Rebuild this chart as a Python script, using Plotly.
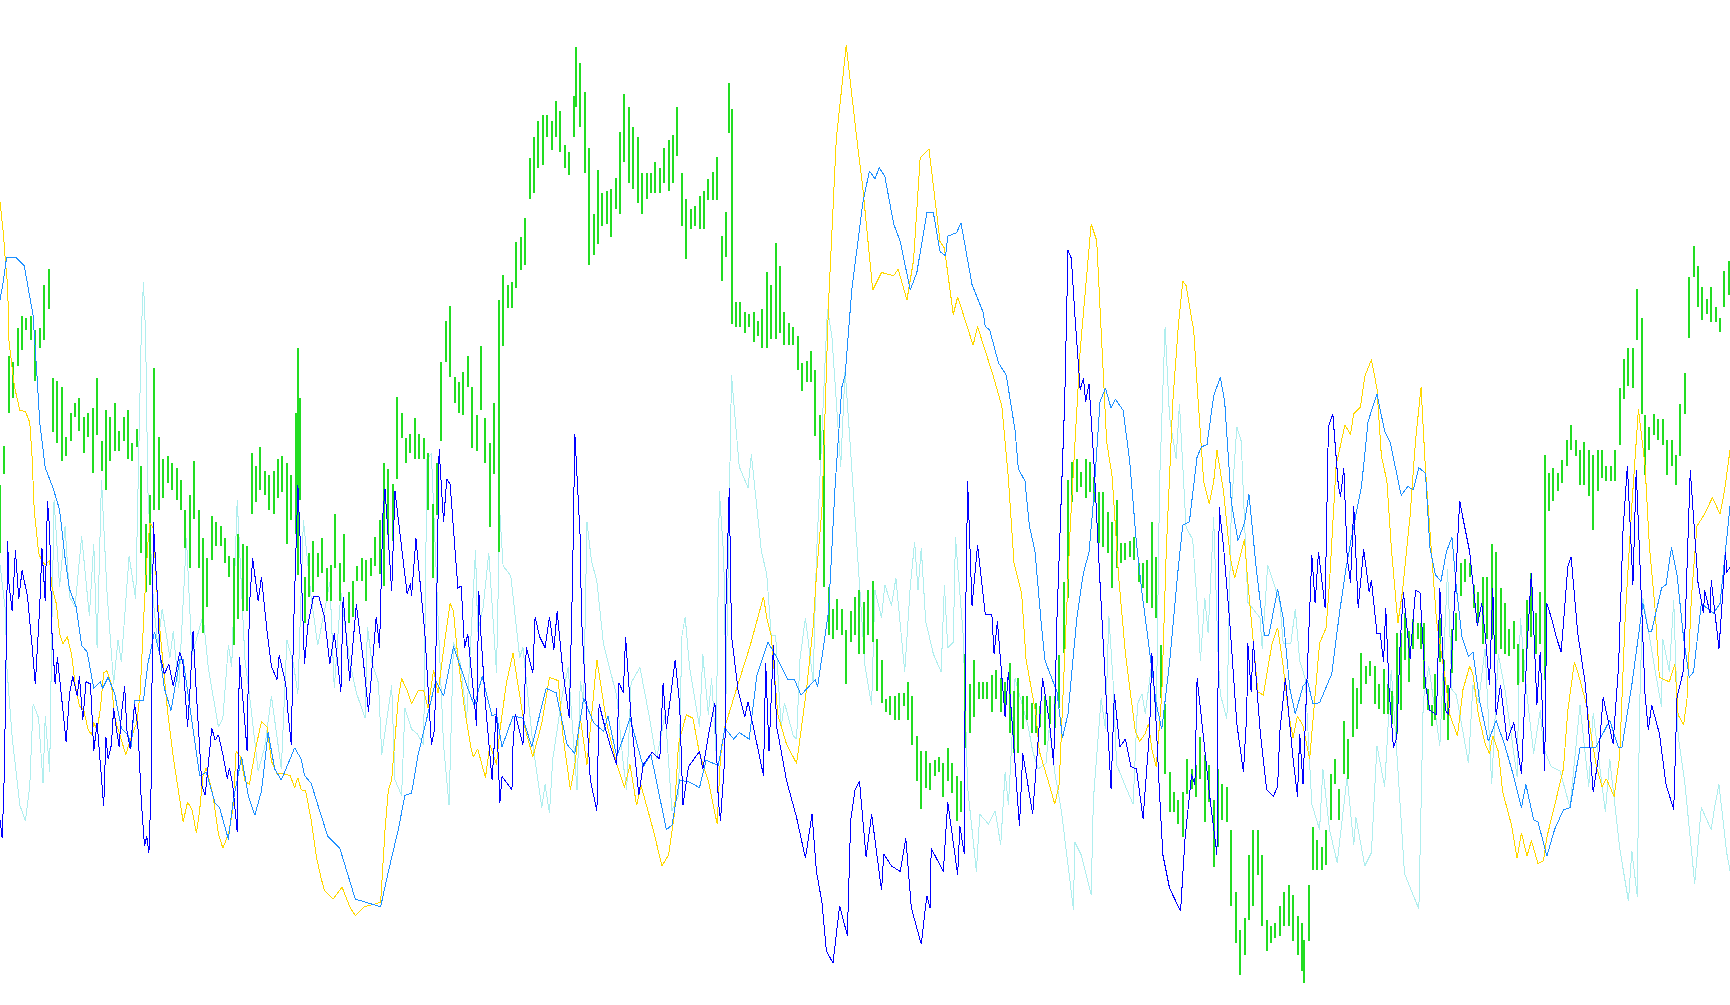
import plotly.graph_objects as go

# (position, value) readings for each series
gold = [(0,183),(3,211),(5,238),(7,260),(8,308),(11,334),(13,350),(18,372),(23,373),(27,383),(29,413),(31,462),(35,501),(38,509),(41,512),(45,508),(47,532),(51,547),(54,574),(57,584),(61,577),(65,594),(68,620),(72,640),(76,644),(80,662),(83,666),(85,655),(88,662),(91,642),(94,610),(97,608),(101,620),(104,651),(109,668),(114,684),(119,668),(124,655),(127,629),(129,585),(131,545),(134,493),(136,474),(139,479),(142,532),(145,572),(149,611),(152,646),(157,686),(162,721),(166,745),(170,727),(174,734),(178,755),(181,734),(184,703),(187,696),(193,721),(198,756),(202,769),(207,756),(211,734),(214,681),(218,686),(222,708),(226,711),(232,677),(237,654),(242,659),(246,690),(251,701),(255,701),(263,703),(267,714),(270,705),(273,716),(277,717),(282,743),(287,778),(291,796),(294,807),(302,815),(310,804),(317,822),(322,830),(330,822),(345,818),(349,752),(352,716),(355,707),(358,670),(361,633),(364,615),(369,626),(373,638),(379,626),(384,626),(388,642),(393,607),(397,628),(403,582),(408,547),(411,554),(415,596),(421,642),(427,679),(429,686),(433,679),(440,705),(444,675),(450,693),(453,663),(459,619),(465,592),(470,624),(476,661),(483,686),(491,656),(498,614),(506,617),(510,665),(517,716),(521,693),(526,651),(532,693),(541,598),(550,656),(559,693),(566,714),(571,693),(577,730),(581,712),(592,752),(600,785),(606,775),(611,740),(615,674),(622,648),(628,651),(634,683),(642,708),(650,747),(653,686),(657,659),(668,623),(680,585),(692,541),(695,560),(699,576),(705,648),(713,675),(722,692),(725,670),(731,625),(737,568),(740,521),(745,461),(748,357),(751,274),(758,126),(767,41),(776,121),(782,170),(791,263),(799,247),(810,250),(814,244),(822,272),(828,236),(834,143),(842,135),(852,219),(856,225),(864,285),(868,269),(882,313),(886,296),(900,340),(908,368),(914,434),(919,510),(926,538),(930,598),(939,648),(942,681),(951,711),(956,729),(960,711),(964,615),(970,478),(979,318),(989,203),(994,218),(998,305),(1003,400),(1008,432),(1014,524),(1020,592),(1029,663),(1033,672),(1038,665),(1041,656),(1044,679),(1048,695),(1053,629),(1057,501),(1063,364),(1068,295),(1072,255),(1075,259),(1082,300),(1086,364),(1091,437),(1096,457),(1100,437),(1103,408),(1109,446),(1115,505),(1119,524),(1128,489),(1131,528),(1136,583),(1140,627),(1145,630),(1153,583),(1158,569),(1163,604),(1168,647),(1172,669),(1176,649),(1181,658),(1187,688),(1192,629),(1196,583),(1202,569),(1205,528),(1211,422),(1219,385),(1224,394),(1227,375),(1233,369),(1237,341),(1243,326),(1248,352),(1252,413),(1257,436),(1261,496),(1267,565),(1271,537),(1278,468),(1283,399),(1288,351),(1292,426),(1298,514),(1302,563),(1310,616),(1314,648),(1321,667),(1326,625),(1332,604),(1335,611),(1340,648),(1346,674),(1350,683),(1353,667),(1358,681),(1362,718),(1370,748),(1375,778),(1379,755),(1384,776),(1388,762),(1394,783),(1399,780),(1402,759),(1411,722),(1417,697),(1421,644),(1427,600),(1430,609),(1438,639),(1443,672),(1447,695),(1452,713),(1456,706),(1463,722),(1468,685),(1473,560),(1479,459),(1485,371),(1491,422),(1495,496),(1500,551),(1504,614),(1513,618),(1518,602),(1521,648),(1526,657),(1529,634),(1533,542),(1538,477),(1545,466),(1552,451),(1559,466),(1563,445),(1568,408)]

dodger = [(0,272),(3,255),(6,233),(14,233),(22,241),(26,264),(30,286),(34,348),(36,383),(41,424),(48,442),(54,462),(59,506),(63,534),(69,550),(74,585),(79,591),(85,624),(91,618),(93,624),(98,614),(104,629),(110,660),(116,666),(119,677),(122,635),(130,635),(134,602),(140,573),(145,594),(149,624),(155,644),(163,598),(166,598),(175,660),(181,703),(187,700),(195,728),(199,732),(207,761),(211,728),(219,686),(225,721),(231,739),(237,717),(243,664),(249,697),(255,707),(267,678),(273,688),(276,703),(282,710),(291,739),(297,758),(308,769),(317,798),(322,815),(332,818),(345,822),(352,790),(361,752),(367,721),(373,719),(379,684),(387,651),(395,617),(402,631),(411,586),(423,621),(430,640),(437,613),(446,649),(450,647),(455,677),(465,649),(474,651),(482,677),(495,624),(504,628),(514,675),(521,683),(529,633),(538,655),(547,663),(551,649),(559,686),(571,651),(583,695),(590,684),(604,752),(609,748),(616,707),(625,709),(634,714),(640,689),(651,694),(657,660),(665,670),(670,664),(679,670),(686,612),(696,582),(704,596),(714,616),(720,616),(726,630),(739,616),(741,623),(751,554),(757,439),(763,351),(766,340),(772,263),(782,184),(788,155),(793,162),(797,152),(802,160),(810,203),(816,219),(825,263),(831,247),(840,193),(846,193),(852,228),(857,232),(859,214),(867,211),(871,202),(881,258),(891,283),(893,296),(897,299),(905,329),(912,340),(920,390),(923,425),(929,436),(933,477),(938,499),(944,568),(947,598),(951,609),(958,627),(963,669),(968,647),(976,560),(982,519),(987,501),(991,455),(997,364),(1002,352),(1007,370),(1011,362),(1018,372),(1024,419),(1030,492),(1035,537),(1041,583),(1048,638),(1053,661),(1060,601),(1068,514),(1072,476),(1078,473),(1085,414),(1089,405),(1094,403),(1100,359),(1106,342),(1110,364),(1116,455),(1122,490),(1128,474),(1132,448),(1139,519),(1146,576),(1150,576),(1158,534),(1163,560),(1169,624),(1174,647),(1181,622),(1185,617),(1190,638),(1196,637),(1207,611),(1214,556),(1220,515),(1225,487),(1234,441),(1240,382),(1248,357),(1255,391),(1260,401),(1268,439),(1270,449),(1276,441),(1281,444),(1286,424),(1292,429),(1296,496),(1301,521),(1306,527),(1311,500),(1316,487),(1320,533),(1325,577),(1331,595),(1335,591),(1341,635),(1349,672),(1356,653),(1364,676),(1372,704),(1379,732),(1383,711),(1390,743),(1394,745),(1402,776),(1409,752),(1417,734),(1423,732),(1432,678),(1441,678),(1446,678),(1459,653),(1467,678),(1470,678),(1479,621),(1489,547),(1494,572),(1497,572),(1506,533),(1510,530),(1515,496),(1520,521),(1526,579),(1531,614),(1535,609),(1542,547),(1553,556),(1559,547),(1568,459)]

blue = [(0,743),(2,760),(4,699),(6,558),(7,490),(8,528),(11,554),(14,499),(17,543),(20,517),(25,541),(29,585),(32,620),(36,550),(38,497),(41,545),(43,454),(45,479),(47,572),(50,620),(52,596),(55,624),(60,673),(63,629),(66,613),(70,631),(72,613),(75,653),(78,618),(82,620),(85,681),(88,655),(91,695),(94,731),(96,668),(98,688),(101,675),(103,642),(106,664),(108,677),(110,648),(113,622),(115,662),(118,679),(122,638),(125,659),(128,725),(131,767),(133,758),(135,773),(137,712),(138,554),(139,473),(142,528),(145,594),(149,611),(153,602),(157,622),(160,607),(163,591),(166,602),(170,659),(172,629),(175,572),(178,629),(183,712),(186,721),(189,690),(192,660),(195,671),(198,666),(202,684),(206,706),(208,696),(211,712),(215,754),(217,596),(219,620),(224,681),(226,550),(229,506),(234,545),(237,523),(242,572),(246,604),(251,616),(253,594),(256,607),(259,620),(261,646),(264,675),(266,572),(270,440),(272,488),(276,602),(279,567),(284,541),(289,541),(294,559),(299,602),(303,574),(309,627),(311,541),(317,617),(323,548),(329,596),(334,645),(341,559),(344,587),(347,467),(349,443),(355,536),(358,445),(366,513),(369,538),(372,529),(373,540),(377,488),(385,573),(391,675),(394,661),(398,407),(402,473),(405,434),(408,439),(415,533),(418,531),(421,587),(424,575),(432,658),(434,536),(436,577),(440,638),(446,707),(450,642),(453,728),(455,704),(464,716),(465,675),(467,647),(474,675),(477,587),(483,610),(485,559),(489,577),(494,587),(498,559),(502,589),(505,554),(510,607),(516,651),(519,522),(521,393),(526,490),(527,559),(535,707),(541,735),(543,638),(548,658),(554,679),(559,693),(561,619),(565,628),(567,577),(572,651),(579,721),(583,693),(591,682),(598,688),(601,619),(604,661),(612,598),(616,638),(619,730),(624,695),(634,681),(637,697),(642,667),(648,637),(651,725),(653,744),(657,686),(658,549),(661,442),(663,576),(669,626),(675,650),(678,636),(686,675),(692,703),(694,601),(697,681),(701,585),(704,659),(713,708),(722,741),(730,778),(736,738),(740,790),(745,818),(749,862),(755,873),(761,821),(768,848),(771,744),(775,716),(779,708),(785,777),(790,738),(799,807),(801,774),(808,785),(816,790),(821,760),(826,823),(835,856),(840,812),(843,823),(844,769),(855,790),(859,727),(868,793),(870,749),(874,774),(875,576),(877,436),(881,549),(886,494),(893,557),(899,557),(901,593),(904,563),(911,650),(914,609),(918,664),(924,749),(927,683),(936,738),(941,670),(945,615),(951,653),(955,693),(958,560),(965,364),(968,227),(971,234),(974,282),(979,353),(982,343),(984,364),(987,348),(992,428),(997,528),(1002,624),(1007,715),(1010,629),(1015,677),(1020,670),(1025,695),(1030,697),(1036,742),(1039,702),(1042,661),(1044,592),(1047,638),(1051,720),(1054,775),(1060,805),(1070,826),(1074,761),(1080,702),(1083,711),(1085,615),(1091,670),(1096,718),(1103,775),(1105,460),(1109,496),(1115,569),(1121,656),(1127,700),(1130,647),(1131,583),(1134,627),(1136,581),(1142,661),(1148,716),(1154,722),(1158,713),(1160,663),(1165,615),(1172,688),(1176,722),(1178,665),(1181,711),(1184,631),(1187,547),(1189,503),(1192,547),(1195,500),(1201,551),(1204,387),(1208,375),(1213,440),(1215,450),(1218,424),(1221,505),(1224,528),(1227,459),(1231,551),(1236,498),(1241,537),(1243,526),(1248,574),(1251,574),(1254,600),(1256,551),(1259,625),(1263,678),(1266,669),(1269,584),(1272,537),(1278,597),(1283,535),(1287,537),(1292,621),(1296,644),(1302,648),(1305,533),(1310,644),(1313,648),(1319,537),(1323,454),(1326,470),(1332,500),(1339,567),(1343,547),(1346,574),(1350,621),(1353,533),(1356,648),(1360,621),(1366,672),(1372,655),(1379,702),(1384,588),(1388,519),(1393,639),(1396,591),(1400,699),(1402,547),(1407,563),(1411,579),(1415,591),(1418,556),(1421,514),(1424,505),(1430,574),(1437,621),(1444,718),(1449,685),(1453,632),(1462,674),(1467,604),(1471,482),(1475,422),(1480,530),(1483,426),(1488,551),(1491,630),(1494,662),(1497,639),(1504,665),(1510,711),(1517,734),(1520,632),(1526,607),(1532,426),(1539,528),(1544,556),(1545,535),(1550,556),(1551,526),(1558,588),(1564,500),(1565,519),(1568,514)]

turquoise = [(0,512),(5,554),(6,602),(11,668),(18,730),(23,744),(27,712),(30,638),(35,651),(39,710),(41,649),(45,700),(47,567),(49,453),(54,532),(59,477),(63,541),(68,550),(74,486),(81,558),(85,493),(88,587),(92,435),(97,537),(103,620),(107,580),(110,600),(117,504),(123,543),(128,304),(130,256),(132,304),(134,444),(139,545),(143,585),(147,552),(154,596),(157,572),(162,624),(169,488),(174,594),(184,558),(189,607),(198,659),(202,651),(207,585),(210,605),(215,453),(222,598),(226,629),(234,699),(240,677),(246,631),(255,697),(260,580),(266,602),(270,629),(275,471),(282,541),(288,585),(299,528),(303,624),(309,537),(317,600),(323,628),(331,651),(333,568),(337,600),(343,619),(346,684),(355,621),(358,707),(364,721),(367,642),(373,661),(378,665),(384,675),(387,416),(391,411),(394,489),(397,559),(402,675),(407,730),(411,582),(417,600),(423,651),(431,499),(433,573),(438,550),(443,501),(450,610),(453,464),(456,513),(463,522),(471,596),(474,587),(483,675),(491,732),(494,711),(498,737),(501,688),(510,628),(515,605),(523,716),(526,617),(529,638),(532,473),(536,508),(541,527),(547,584),(559,631),(565,693),(568,716),(572,619),(580,605),(588,647),(595,688),(603,647),(609,735),(615,721),(618,577),(621,559),(625,605),(634,659),(637,593),(642,648),(645,615),(649,681),(652,445),(656,505),(658,631),(663,340),(670,423),(678,442),(681,412),(690,499),(695,521),(699,576),(703,576),(708,659),(711,637),(719,667),(722,670),(725,598),(730,560),(737,618),(740,505),(748,324),(750,280),(754,305),(758,362),(762,423),(766,335),(773,439),(779,527),(784,604),(790,639),(793,535),(799,560),(802,530),(808,549),(812,524),(820,609),(825,532),(829,491),(832,535),(835,497),(839,563),(846,593),(853,609),(856,530),(859,587),(864,582),(866,487),(873,576),(877,714),(885,790),(888,738),(896,747),(902,735),(907,766),(911,700),(914,730),(920,615),(926,637),(932,659),(936,681),(941,697),(948,692),(951,659),(956,700),(962,735),(973,825),(974,763),(980,775),(989,811),(991,725),(998,633),(1002,661),(1005,558),(1009,620),(1012,693),(1021,715),(1027,729),(1031,638),(1035,629),(1038,647),(1044,601),(1048,652),(1051,437),(1056,296),(1060,378),(1066,416),(1069,366),(1075,478),(1081,489),(1086,560),(1088,599),(1092,542),(1095,574),(1100,469),(1104,592),(1106,629),(1112,652),(1116,462),(1121,387),(1125,400),(1131,546),(1142,560),(1144,588),(1149,512),(1160,546),(1163,583),(1170,583),(1174,552),(1178,599),(1183,615),(1189,729),(1196,752),(1199,697),(1205,752),(1212,782),(1221,704),(1227,766),(1229,741),(1237,785),(1243,773),(1248,676),(1255,713),(1261,607),(1268,713),(1273,792),(1286,824),(1290,635),(1295,604),(1305,676),(1312,516),(1316,625),(1320,630),(1331,692),(1335,621),(1340,637),(1346,588),(1352,711),(1358,593),(1364,625),(1375,704),(1378,560),(1384,630),(1390,683),(1396,644),(1399,678),(1406,695),(1414,699),(1423,732),(1432,639),(1440,713),(1444,646),(1455,736),(1459,688),(1468,769),(1476,817),(1479,771),(1484,813),(1486,644),(1489,542),(1500,607),(1506,641),(1507,579),(1513,609),(1517,544),(1521,667),(1527,709),(1536,801),(1542,732),(1551,752),(1554,732),(1558,711),(1565,773),(1568,789)]

# green bars: (position, top value, bottom value)
green = [(0,440,501),(4,404,430),(8,323,374),(12,328,361),(16,297,332),(20,286,317),(24,288,299),(28,286,308),(32,299,345),(36,297,315),(40,258,308),(44,244,280),(48,343,392),(52,345,402),(56,351,418),(60,396,413),(64,374,400),(68,365,378),(72,361,391),(76,378,411),(80,374,396),(84,370,429),(88,343,394),(92,400,427),(96,372,444),(100,378,418),(104,365,409),(108,391,409),(112,378,400),(116,372,416),(120,402,418),(124,389,405),(128,422,501),(132,475,537),(136,449,530),(140,334,462),(144,396,462),(148,416,451),(152,413,438),(156,420,444),(160,424,453),(164,435,462),(168,462,497),(172,449,515),(176,418,470),(180,462,515),(184,488,574),(188,506,550),(192,468,508),(196,473,495),(200,477,495),(204,488,510),(208,504,523),(212,506,585),(216,484,561),(220,493,554),(224,495,554),(228,411,466),(232,422,455),(236,405,444),(240,427,449),(244,431,462),(248,427,466),(252,416,451),(256,413,446),(260,420,493),(264,431,471),(268,374,484),(270,315,521),(272,361,453),(276,523,565),(280,501,541),(284,490,537),(288,501,523),(292,488,519),(296,515,545),(300,512,545),(304,466,515),(308,510,545),(312,484,528),(316,537,565),
(320,527,559),(324,513,527),(328,506,527),(332,508,545),(336,506,522),(340,487,513),(344,471,520),(348,420,531),(352,425,485),(356,439,490),(360,360,434),(364,374,397),(368,397,420),(372,393,411),(376,379,416),(380,393,416),(384,397,416),(388,411,462),(392,457,524),(396,420,467),(400,328,400),(404,291,328),(408,277,342),(412,342,365),(416,346,374),(420,337,376),(424,323,351),(428,351,406),(432,376,409),(436,314,372),(440,379,420),(444,402,478),(448,365,430),(452,272,500),(456,249,314),(460,258,279),(464,256,279),(468,219,261),(472,215,245),(476,198,240),(480,143,180),(484,124,175),(488,110,152),(492,104,150),(496,104,124),(500,110,136),(504,92,124),(508,101,138),(512,131,152),(516,138,159),(520,87,124),(522,43,97),(526,57,115),(530,83,157),(534,134,240),(538,194,231),(542,154,221),(546,175,205),(550,173,203),(554,171,215),(558,161,189),(562,120,194),(566,85,147),(570,97,166),(574,115,171),(578,124,184),(582,157,194),(586,157,180),(590,157,175),(594,147,175),(598,152,175),(602,134,166),(606,127,173),(610,122,166),(614,97,141),(618,157,205),(622,180,235),(626,189,208),(630,187,205),(634,178,208),
(638,173,208),(642,162,181),(646,156,181),(650,142,181),(654,214,255),(658,192,233),(661,75,121),(663,99,294),(667,274,296),(671,274,296),(675,283,302),(679,285,296),(683,283,310),(687,291,305),(691,280,315),(695,247,315),(699,258,307),(703,220,307),(707,241,302),(711,283,313),(715,293,313),(719,296,313),(723,305,335),(727,329,354),(731,327,346),(735,318,346),(739,335,395),(743,376,417),(747,390,532),(751,532,576),(755,552,579),(759,543,571),(763,552,576),(767,571,620),(771,554,582),(775,541,576),(779,535,593),(783,546,593),(787,535,576),(791,527,582),(795,579,626),(799,598,637),(803,634,645),(807,631,648),(811,631,653),(815,628,653),(819,628,640),(823,618,653),(827,631,675),(831,667,708),(835,681,733),(839,681,714),(843,692,716),(847,689,703),(851,686,700),(855,692,722),(859,678,708),(863,692,719),(867,703,744),(871,708,736),(875,593,678),(879,620,664),(883,598,650),(887,618,634),(891,618,634),(895,618,634),(899,612,645),(903,607,634),(907,615,645),(911,618,645),(915,601,664),(919,626,683),(923,615,683),(927,631,661),(931,631,653),(935,637,664),(939,637,664),(943,640,659),(947,631,675),
(952,631,656),(956,631,660),(960,594,642),(964,528,592),(968,435,542),(972,419,455),(976,416,446),(980,428,441),(984,416,451),(988,419,446),(992,432,455),(996,446,492),(1000,446,496),(1004,464,501),(1008,473,533),(1012,453,515),(1016,492,510),(1020,492,508),(1024,490,505),(1028,487,508),(1032,510,528),(1036,510,533),(1040,508,547),(1044,473,551),(1048,505,560),(1052,585,633),(1056,638,702),(1060,700,736),(1064,718,736),(1068,725,747),(1072,718,759),(1076,688,720),(1080,697,715),(1084,693,722),(1088,668,706),(1092,684,745),(1096,693,727),(1100,725,786),(1104,697,768),(1108,711,743),(1112,713,745),(1116,752,821),(1120,809,855),(1124,843,884),(1128,832,866),(1132,775,834),(1136,752,821),(1140,752,793),(1144,775,839),(1148,834,862),(1152,839,855),(1156,837,850),(1160,821,848),(1164,809,839),(1168,802,839),(1172,811,853),(1176,830,866),(1180,837,880),(1182,852,891),(1186,802,853),(1190,750,789),(1194,761,789),(1198,768,789),(1202,752,784),(1206,702,743),(1210,688,711),(1214,715,743),(1218,654,702),(1222,670,706),(1226,615,668),(1230,624,661),(1234,592,638),(1238,604,620),(1242,599,613),(1246,604,638),(1250,620,643),(1254,606,647),(1258,620,647),(1262,626,656),(1266,574,665),
(1270,574,644),(1273,556,598),(1277,572,618),(1281,561,588),(1285,565,579),(1288,565,588),(1291,565,625),(1294,625,644),(1298,639,658),(1301,611,653),(1305,560,600),(1309,598,653),(1312,621,671),(1316,570,610),(1320,556,581),(1324,510,540),(1328,507,528),(1332,510,523),(1336,530,551),(1340,537,565),(1344,523,584),(1348,523,579),(1352,493,579),(1356,500,593),(1360,533,588),(1364,547,593),(1368,570,595),(1372,563,588),(1376,584,621),(1380,588,618),(1384,544,588),(1388,519,577),(1392,556,593),(1396,537,584),(1400,412,616),(1404,429,463),(1408,424,454),(1412,429,445),(1416,417,438),(1420,399,422),(1424,385,408),(1428,399,413),(1432,408,440),(1436,401,440),(1440,408,450),(1444,412,480),(1448,408,445),(1452,408,433),(1456,422,436),(1460,422,436),(1464,408,436),(1468,352,403),(1472,325,362),(1476,315,350),(1480,315,352),(1484,262,308),(1488,288,375),(1491,376,431),(1495,387,408),(1499,375,394),(1503,380,399),(1507,380,403),(1511,399,431),(1515,399,422),(1519,412,440),(1523,366,413),(1527,338,375),(1531,251,306),(1535,223,251),(1539,241,278),(1543,260,290),(1547,271,285),(1551,260,292),(1555,278,292),(1559,288,301),(1563,246,278),(1567,237,267)]

COLORS = dict(turquoise="#AFEEEE", green="#22DD22", gold="#FFD700", dodger="#1E90FF", blue="#0000FF")
WIDTH, HEIGHT = 1730, 1005
X_RANGE = [0, 1568]
Y_RANGE = [911, 0]


def line(points, color, name):
    xs, ys = zip(*points)
    return go.Scatter(x=list(xs), y=list(ys), mode="lines", name=name,
                      line=dict(color=color, width=1), hoverinfo="skip")


bar_x, bar_y = [], []
for pos, top, bottom in green:
    bar_x += [pos, pos, None]
    bar_y += [top, bottom, None]

fig = go.Figure()
fig.add_trace(line(turquoise, COLORS["turquoise"], "turquoise"))
fig.add_trace(go.Scatter(x=bar_x, y=bar_y, mode="lines", name="green",
                         line=dict(color=COLORS["green"], width=2), hoverinfo="skip"))
fig.add_trace(line(gold, COLORS["gold"], "gold"))
fig.add_trace(line(dodger, COLORS["dodger"], "dodger"))
fig.add_trace(line(blue, COLORS["blue"], "blue"))

fig.update_layout(
    width=WIDTH, height=HEIGHT, showlegend=False,
    margin=dict(l=0, r=0, t=0, b=0),
    paper_bgcolor="white", plot_bgcolor="white",
    xaxis=dict(visible=False, range=X_RANGE, fixedrange=True),
    yaxis=dict(visible=False, range=Y_RANGE, fixedrange=True),
)
fig.write_html(
    "out.html",
    post_script=("document.body.style.margin='0';document.body.style.overflow='hidden';"
                 "document.querySelectorAll('.js-line').forEach(function(p){p.style.shapeRendering='crispEdges';});"),
    config=dict(displayModeBar=False, responsive=False),
)
